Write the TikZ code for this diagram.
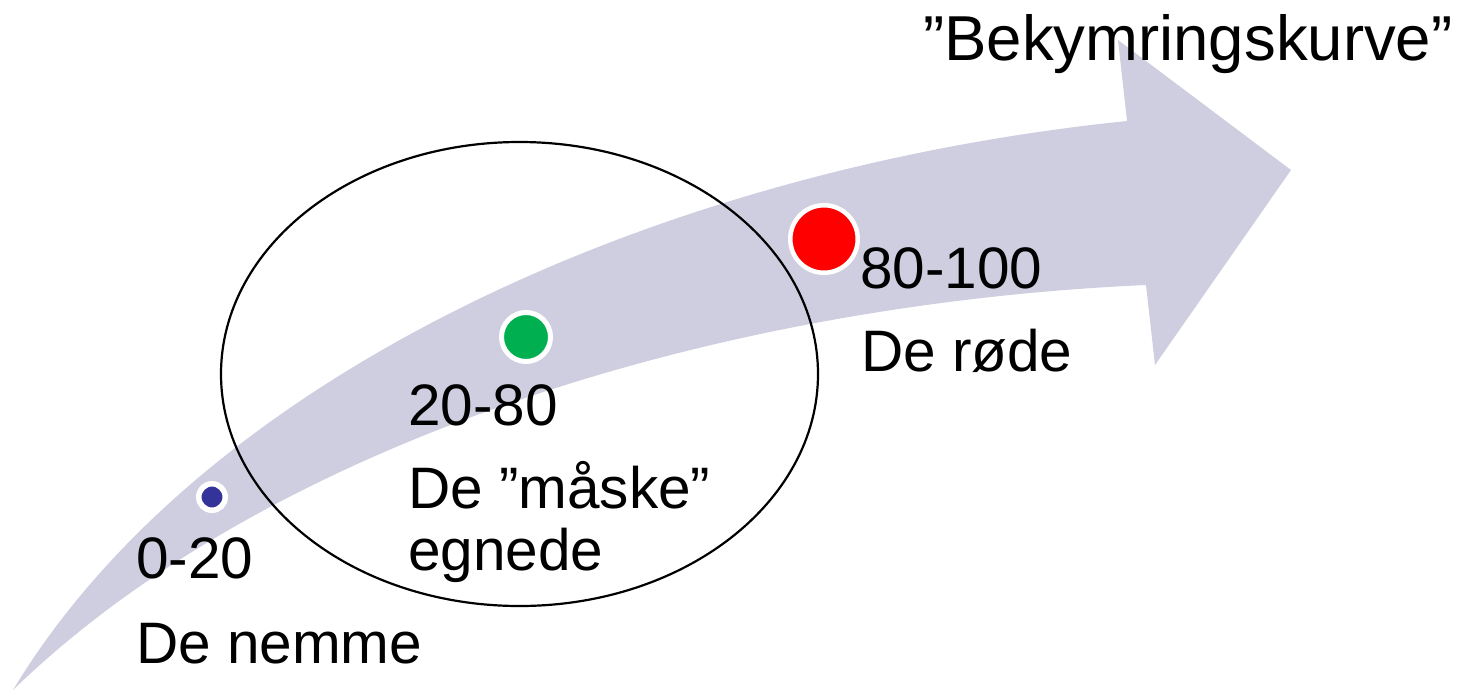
\documentclass[tikz,border=0pt]{standalone}
\usepackage{fontspec}
\setmainfont{Liberation Sans}
\definecolor{bandcol}{RGB}{206,206,224}
\definecolor{dotblue}{RGB}{51,51,153}
\definecolor{dotgreen}{RGB}{0,176,80}
\definecolor{dotred}{RGB}{255,0,0}
\begin{document}
\begin{tikzpicture}[x=1pt,y=-1pt,
  lbl/.style={anchor=base west, inner sep=0pt, font=\fontsize{58.5}{61}\selectfont},
  ttl/.style={anchor=base west, inner sep=0pt, font=\fontsize{63.5}{66}\selectfont},
  dot/.style={circle, draw=white, inner sep=0pt}]
\useasboundingbox (0,0) rectangle (1467,691);
% curved block arrow
\fill[bandcol] (13,690) .. controls (200,380) and (650,170) .. (1127,121)
  -- (1118,40) -- (1291,170) -- (1155,365) -- (1146,285)
  .. controls (700,305) and (260,450) .. (13,690) -- cycle;
% ellipse
\draw[line width=2.2pt] (519.5,374) ellipse [x radius=298.5pt, y radius=232pt];
% dots
\node[dot, fill=dotblue, line width=5.5pt, minimum size=26.5pt] (dblue) at (212,497) {};
\node[dot, fill=dotgreen, line width=5pt, minimum size=49pt] (dgreen) at (526,337) {};
\node[dot, fill=dotred, line width=4.5pt, minimum size=67.5pt] (dred) at (824,239) {};
% labels
\node[lbl] (t020) at (136,578) {0-20};
\node[lbl] (tnemme) at (136,663) {De nemme};
\node[lbl] (t2080) at (408,425) {20-80};
\node[lbl] (tmaaske) at (408,508) {De ”måske”};
\node[lbl] (tegnede) at (408,570) {egnede};
\node[lbl] (t80100) at (860,288) {80-100};
\node[lbl] (trode) at (861,371) {De røde};
\node[ttl] (title) at (923,60) {”Bekymringskurve”};
\end{tikzpicture}
\end{document}
